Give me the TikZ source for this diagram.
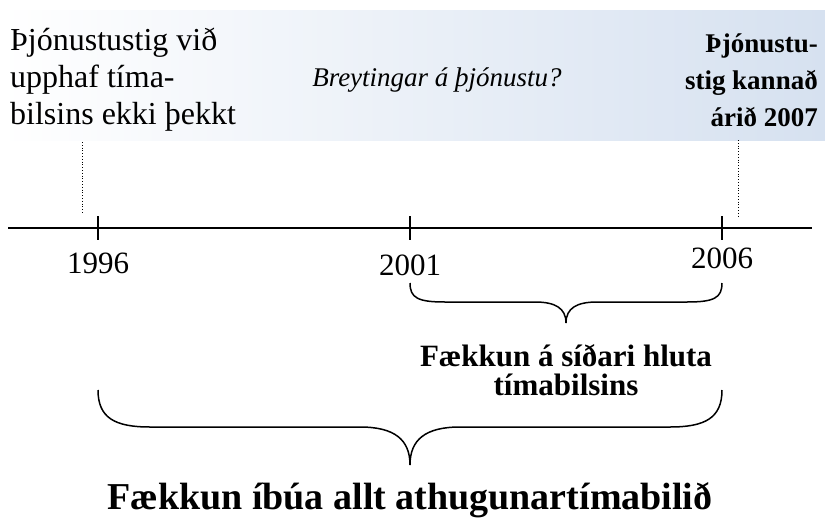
\documentclass[tikz,border=0pt]{standalone}
\usepackage{fontspec}
\setmainfont{Liberation Serif}
\definecolor{bandblue}{HTML}{D6E1F0}

\begin{document}
\begin{tikzpicture}[x=1pt,y=-1pt,
    note/.style ={font=\fontsize{32}{37}\selectfont, inner sep=0pt},
    yearlabel/.style ={font=\fontsize{31}{34}\selectfont, inner sep=0pt},
    bracelabel/.style ={font=\bfseries\fontsize{31}{29}\selectfont, align=center, inner sep=0pt},
    tick/.style ={line width=1.5pt},
    brace/.style ={line width=1.5pt}]
   \useasboundingbox (0,0) rectangle (825,525);
   \shade[left color=white, right color=bandblue] (0,10) rectangle (825,140);

   % texts in the band
   \node[note,align=left,anchor=west] (start) at (10,80)
      {Þjónustustig við\\upphaf tíma-\\bilsins ekki þekkt};
   \node[note,font=\itshape\fontsize{27}{37}\selectfont] (middle) at (437,80) {Breytingar á þjónustu?};
   \node[note,align=right,anchor=east,font=\bfseries\fontsize{27}{37}\selectfont] (end) at (818,80)
      {Þjónustu-\\stig kannað\\árið 2007};

   % timeline
   \coordinate (L) at (8,228);
   \coordinate (R) at (812,228);
   \draw[line width=2pt] (L) to (R);
   \foreach \x in {98, 410, 722} {
     \draw[tick] (\x,216) to (\x,240);
   }
   \node[yearlabel] (y1996) at (98,263) {1996};
   \node[yearlabel] (y2001) at (410,265) {2001};
   \node[yearlabel] (y2006) at (722,258) {2006};

   % dotted markers
   \coordinate (s1) at (82,142);
   \coordinate (s2) at (82,213);
   \coordinate (e1) at (738,140);
   \coordinate (e2) at (738,217);
   \draw[dotted,thick] (s1) to (s2);
   \draw[dotted,thick] (e1) to (e2);

   % small brace
   \draw[brace] (410,283) .. controls (410,298) and (418,302) .. (445,302)
      -- (535,302) .. controls (555,302) and (566,308) .. (566,323)
      .. controls (566,308) and (577,302) .. (597,302)
      -- (687,302) .. controls (714,302) and (722,298) .. (722,283);
   \node[bracelabel] (late) at (566,370) {Fækkun á síðari hluta\\tímabilsins};

   % big brace
   \draw[brace] (98,390) .. controls (98,418) and (115,427) .. (150,427)
      -- (360,427) .. controls (395,427) and (410,440) .. (410,465)
      .. controls (410,440) and (425,427) .. (460,427)
      -- (670,427) .. controls (705,427) and (722,418) .. (722,390);
   \node[bracelabel,font=\bfseries\fontsize{38}{40}\selectfont] (whole) at (410,500)
      {Fækkun íbúa allt athugunartímabilið};
\end{tikzpicture}
\end{document}
